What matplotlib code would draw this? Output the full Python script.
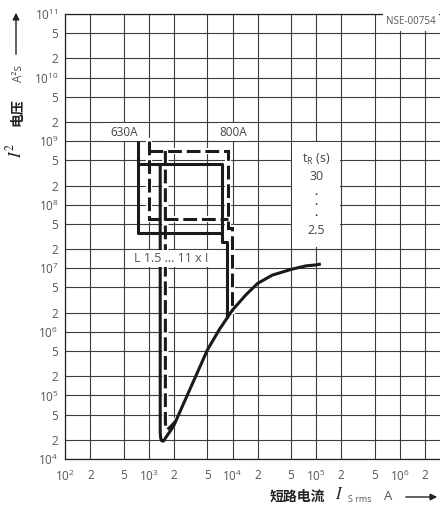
import numpy as np
import matplotlib.pyplot as plt
from matplotlib.patches import Rectangle

plt.rcParams['font.family'] = ['Open Sans', 'Noto Sans CJK SC', 'DejaVu Sans']
plt.rcParams['mathtext.fontset'] = 'custom'
plt.rcParams['mathtext.rm'] = 'Open Sans'
plt.rcParams['mathtext.it'] = 'Open Sans:italic'
plt.rcParams['mathtext.bf'] = 'Open Sans:bold'

# axis ticks (I_S rms in A, I2t in A2s)
x_ticks = [1e2, 2e2, 5e2, 1e3, 2e3, 5e3, 1e4, 2e4, 5e4, 1e5, 2e5, 5e5, 1e6, 2e6]
x_labels = [r'$10^2$', '2', '5', r'$10^3$', '2', '5', r'$10^4$', '2', '5',
            r'$10^5$', '2', '5', r'$10^6$', '2']
y_ticks = [1e4, 2e4, 5e4, 1e5, 2e5, 5e5, 1e6, 2e6, 5e6, 1e7, 2e7, 5e7,
           1e8, 2e8, 5e8, 1e9, 2e9, 5e9, 1e10, 2e10, 5e10, 1e11]
y_labels = [r'$10^4$', '2', '5', r'$10^5$', '2', '5', r'$10^6$', '2', '5',
            r'$10^7$', '2', '5', r'$10^8$', '2', '5', r'$10^9$', '2', '5',
            r'$10^{10}$', '2', '5', r'$10^{11}$']

# 630 A (solid)
s_low_x = [738, 738, 7430]
s_low_y = [1e9, 3.55e7, 3.55e7]
s_high_x = [738, 7430, 7430, 8550, 8550]
s_high_y = [4.33e8, 4.33e8, 2.62e7, 2.62e7, 1.63e6]
s_main_x = [1365, 1365, 1385, 1430, 1500, 1600, 1800, 2000, 5000, 6990,
            1e4, 1.44e4, 2e4, 2.99e4, 5e4, 7.5e4, 1e5, 1.14e5]
s_main_y = [4.33e8, 2.6e4, 2.1e4, 1.92e4, 1.92e4, 2.2e4, 2.75e4, 3.43e4,
            5.18e5, 1.1e6, 2.21e6, 3.8e6, 5.8e6, 7.8e6, 9.6e6, 1.09e7,
            1.13e7, 1.17e7]

# 800 A (dashed)
d_low_x = [1000, 1000, 8900]
d_low_y = [1e9, 5.96e7, 5.96e7]
d_high_x = [1000, 8900, 8900, 9770, 9770]
d_high_y = [7.0e8, 7.0e8, 4.26e7, 4.26e7, 2.12e6]
d_main_x = [1574, 1574, 1595, 1660, 1850, 2100]
d_main_y = [7.0e8, 3.8e4, 3.05e4, 2.9e4, 3.3e4, 3.96e4]

tr_values = ['30', '2.5']

fig = plt.figure(figsize=(4.4, 5.07), dpi=100)
ax = fig.add_axes([65.3 / 440, 48 / 507, 1 - 65.3 / 440, 445 / 507])
ax.set_xscale('log')
ax.set_yscale('log')
ax.set_xlim(1e2, 3.03e6)
ax.set_ylim(1e4, 1e11)
ax.set_xticks(x_ticks)
ax.set_xticklabels(x_labels)
ax.set_yticks(y_ticks)
ax.set_yticklabels(y_labels)
ax.minorticks_off()
ax.tick_params(length=0, labelsize=8.5, labelcolor='#555555')
ax.tick_params(axis='x', pad=7)
ax.tick_params(axis='y', pad=5)
ax.set_axisbelow(True)
ax.grid(True, color='#3c3c3c', lw=0.8)
ax.spines['right'].set_visible(False)
for sp in ['left', 'bottom', 'top']:
    ax.spines[sp].set_color('#222222')
    ax.spines[sp].set_linewidth(0.9)

# white boxes behind labels
ax.add_patch(Rectangle((5.15e4, 2.16e7), 1.94e5 - 5.15e4, 0.97e9 - 2.16e7,
                       facecolor='white', edgecolor='none', zorder=1))
ax.add_patch(Rectangle((586, 1.03e7), 6790 - 586, 1.95e7 - 1.03e7,
                       facecolor='white', edgecolor='none', zorder=5))

lw = 2.2
dash = (0, (4.5, 1.6))
for xs, ys in [(d_low_x, d_low_y), (d_high_x, d_high_y), (d_main_x, d_main_y)]:
    ax.plot(xs, ys, color='white', lw=4.5, zorder=2, solid_joinstyle='miter')
for xs, ys in [(s_low_x, s_low_y), (s_high_x, s_high_y), (s_main_x, s_main_y)]:
    ax.plot(xs, ys, color='#1a1a1a', lw=lw, zorder=3, solid_joinstyle='round',
            solid_capstyle='butt')
for xs, ys in [(d_low_x, d_low_y), (d_high_x, d_high_y), (d_main_x, d_main_y)]:
    ax.plot(xs, ys, color='#1a1a1a', lw=lw, ls=dash, zorder=4,
            dash_capstyle='butt', dash_joinstyle='miter')

box = dict(facecolor='white', edgecolor='none', pad=1.5)
ax.text(500, 1.39e9, '630A', ha='center', va='center', fontsize=8.5,
        color='#444444', bbox=box, zorder=6)
ax.text(1.02e4, 1.39e9, '800A', ha='center', va='center', fontsize=8.5,
        color='#444444', bbox=box, zorder=6)
ax.text(1.36e6, 7.6e10, 'NSE-00754', ha='center', va='center', fontsize=7,
        color='#555555', bbox=dict(facecolor='white', edgecolor='none', pad=2.5),
        zorder=6)
ax.text(1830, 1.45e7, 'L 1.5 ... 11 x I', ha='center', va='center',
        fontsize=9, color='#555555', zorder=6)

# tR legend
ax.text(1e5, 5.18e8, r't$_\mathregular{R}$ (s)', ha='center', va='center',
        fontsize=9, color='#444444', zorder=6)
ax.text(1e5, 2.73e8, tr_values[0], ha='center', va='center', fontsize=9,
        color='#444444', zorder=6)
for yd in [1.42e8, 9.64e7, 6.64e7]:
    ax.text(1e5, yd, '•', ha='center', va='center', fontsize=6,
            color='#333333', zorder=6)
ax.text(1e5, 4.0e7, tr_values[1], ha='center', va='center', fontsize=9,
        color='#444444', zorder=6)


def fx(px):
    return px / 440


def fy(py):
    return 1 - py / 507


# y axis label
fig.text(fx(15), fy(150), r'$I^2$', rotation=90, math_fontfamily='stix',
         fontsize=12, ha='center', va='center', color='#222222')
fig.text(fx(17), fy(112), '电压', rotation=90, fontsize=10, weight='bold',
         ha='center', va='center', color='#222222')
fig.text(fx(18), fy(73), 'A²s', rotation=90, fontsize=8.5, ha='center',
         va='center', color='#555555')
ax.annotate('', xy=(fx(16), fy(10)), xytext=(fx(16), fy(57)),
            xycoords='figure fraction', textcoords='figure fraction',
            arrowprops=dict(arrowstyle='-|>', color='#222222', lw=1,
                            mutation_scale=10))

# x axis label
fig.text(fx(297), fy(497), '短路电流', fontsize=10, weight='bold',
         ha='center', va='center', color='#222222')
fig.text(fx(339), fy(495), r'$I$', math_fontfamily='stix', fontsize=12,
         ha='center', va='center', color='#222222')
fig.text(fx(360), fy(500), 'S rms', fontsize=6.5, ha='center', va='center',
         color='#555555')
fig.text(fx(388), fy(497), 'A', fontsize=9.5, ha='center', va='center',
         color='#555555')
ax.annotate('', xy=(fx(440), fy(497)), xytext=(fx(403), fy(497)),
            xycoords='figure fraction', textcoords='figure fraction',
            arrowprops=dict(arrowstyle='-|>', color='#222222', lw=1,
                            mutation_scale=10))

fig.savefig('out.png', dpi=100)
